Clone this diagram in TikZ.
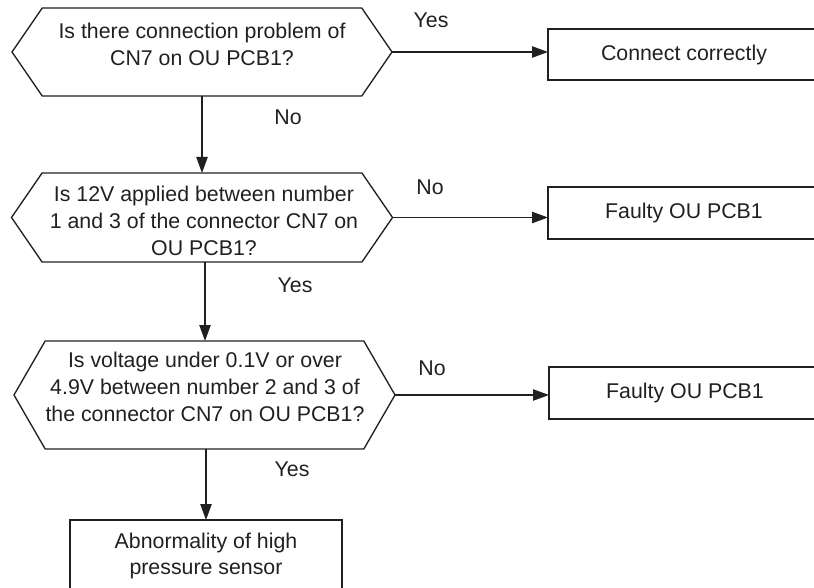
\documentclass[tikz,border=0pt]{standalone}
\usepackage{fontspec}
\setmainfont{Liberation Sans}
\usetikzlibrary{shapes.symbols,arrows.meta}
\definecolor{ink}{HTML}{231F20}
\begin{document}
\begin{tikzpicture}[x=0.75pt,y=-0.75pt,
  every node/.style={text=ink,font=\fontsize{16}{20}\selectfont},
  hexbox/.style={draw=ink,line width=1pt,signal,signal to=west and east,
    inner sep=0pt,outer sep=0pt},
  resultbox/.style={draw=ink,line width=1pt,rectangle,inner sep=0pt,outer sep=0pt},
  txt/.style={align=center,inner sep=0pt},
  flow/.style={draw=ink,line width=1pt,-{Triangle[length=12pt,width=8.5pt]}}]
\useasboundingbox (0,0) rectangle (814,588);

% decision hexagons (sizes in pt)
\node[hexbox,minimum width=285pt,minimum height=66pt,signal pointer angle=111] (h1) at (202,52) {};
\node[txt] (t1) at (202,44.5) {Is there connection problem of\\CN7 on OU PCB1?};

\node[hexbox,minimum width=285.75pt,minimum height=66.75pt,signal pointer angle=111] (h2) at (202,217.5) {};
\node[txt] (t2) at (204,221) {Is 12V applied between number\\1 and 3 of the connector CN7 on\\OU PCB1?};

\node[hexbox,minimum width=285.75pt,minimum height=81pt,signal pointer angle=120] (h3) at (204.5,395) {};
\node[txt] (t3) at (205,387) {Is voltage under 0.1V or over\\4.9V between number 2 and 3 of\\the connector CN7 on OU PCB1?};

% result boxes
\node[resultbox,minimum width=204pt,minimum height=38.25pt] (b1) at (684,54.5) {Connect correctly};
\node[resultbox,minimum width=204pt,minimum height=39pt] (b2) at (684,213) {Faulty OU PCB1};
\node[resultbox,minimum width=204pt,minimum height=39pt] (b3) at (685,393) {Faulty OU PCB1};
\node[resultbox,minimum width=204pt,minimum height=60pt] (b4) at (206,560) {};
\node[txt] (t4) at (206,556) {Abnormality of high\\pressure sensor};

% connectors
\draw[flow] (h1.east) -- (h1.east -| b1.west);
\draw[flow] (h2.east) -- (h2.east -| b2.west);
\draw[flow] (h3.east) -- (h3.east -| b3.west);
\draw[flow] (h1.south) -- (h1.south |- h2.north);
\draw[flow] ([xshift=2.25pt]h2.south) -- ([xshift=2.25pt]h2.south |- h3.north);
\draw[flow] ([xshift=1.125pt]h3.south) -- ([xshift=1.125pt]h3.south |- b4.north);

% branch labels
\node (l1) at (431,20) {Yes};
\node (l2) at (288,117) {No};
\node (l3) at (430,187) {No};
\node (l4) at (295,285) {Yes};
\node (l5) at (432,368) {No};
\node (l6) at (292,469) {Yes};
\end{tikzpicture}
\end{document}
